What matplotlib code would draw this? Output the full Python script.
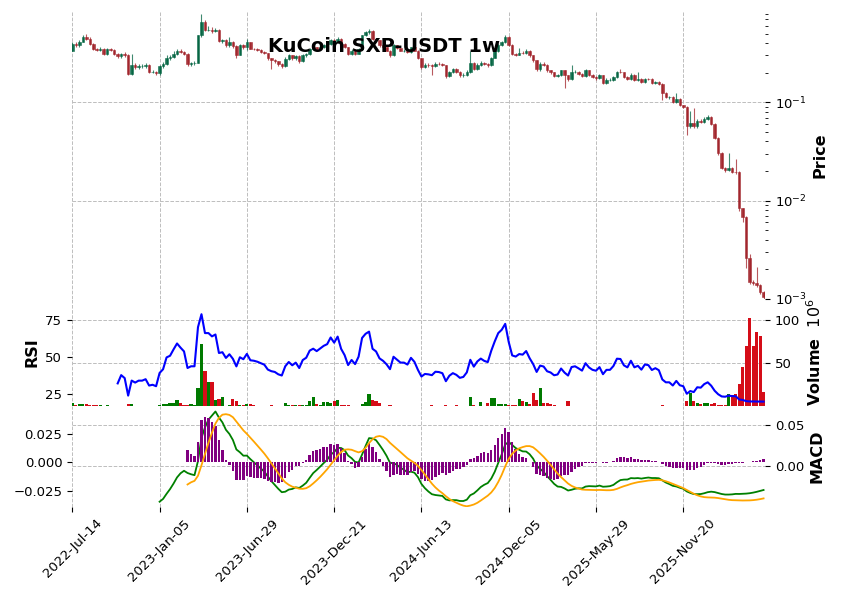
import numpy as np
import pandas as pd
import matplotlib
matplotlib.use("Agg")
import matplotlib.pyplot as plt
from matplotlib.ticker import FixedLocator

TITLE = "KuCoin SXP-USDT 1w"
START = "2022-07-14"
FIRST_OPEN = 0.337

closes = [0.394,0.379,0.416,0.460,0.443,0.394,0.351,0.343,0.351,0.307,
0.345,0.340,0.309,0.293,0.312,0.300,0.196,0.241,0.228,0.234,
0.234,0.238,0.203,0.205,0.197,0.232,0.243,0.282,0.288,0.312,
0.337,0.324,0.312,0.247,0.253,0.253,0.479,0.664,0.551,0.551,
0.530,0.551,0.419,0.426,0.379,0.410,0.373,0.305,0.379,0.362,
0.407,0.353,0.349,0.341,0.329,0.318,0.280,0.267,0.261,0.243,
0.234,0.278,0.300,0.280,0.293,0.261,0.300,0.312,0.351,0.362,
0.351,0.365,0.379,0.388,0.426,0.407,0.443,0.394,0.365,0.312,
0.337,0.314,0.351,0.479,0.517,0.538,0.443,0.426,0.379,0.362,
0.337,0.300,0.379,0.358,0.337,0.337,0.324,0.362,0.337,0.282,
0.228,0.241,0.238,0.232,0.247,0.245,0.238,0.185,0.206,0.216,
0.206,0.188,0.191,0.206,0.253,0.220,0.241,0.253,0.243,0.238,
0.284,0.332,0.385,0.410,0.460,0.385,0.312,0.305,0.320,0.317,
0.337,0.300,0.267,0.216,0.247,0.241,0.211,0.203,0.185,0.188,
0.211,0.188,0.171,0.203,0.206,0.196,0.185,0.211,0.192,0.181,
0.177,0.188,0.157,0.170,0.170,0.181,0.203,0.202,0.181,0.174,
0.192,0.170,0.174,0.161,0.174,0.172,0.157,0.161,0.155,0.124,
0.113,0.113,0.101,0.109,0.0932,0.0896,0.0571,0.0616,0.0571,0.0646,
0.0631,0.0683,0.0709,0.0608,0.0438,0.0306,0.0216,0.0204,0.0217,0.0198,
0.0197,0.00833,0.00685,0.00259,0.00150,0.00144,0.00139,0.00119,0.00106]

highs = [0.41,0.41,0.43,0.48,0.50,0.46,0.40,0.36,0.37,0.36,
0.355,0.355,0.345,0.315,0.32,0.325,0.31,0.312,0.25,0.245,
0.245,0.25,0.245,0.215,0.21,0.24,0.26,0.30,0.30,0.33,
0.35,0.345,0.33,0.32,0.26,0.265,0.49,0.80,0.69,0.60,
0.58,0.57,0.56,0.44,0.44,0.46,0.42,0.38,0.39,0.39,
0.44,0.41,0.36,0.355,0.345,0.335,0.32,0.285,0.275,0.265,
0.25,0.29,0.31,0.305,0.30,0.30,0.31,0.32,0.36,0.375,
0.37,0.375,0.39,0.40,0.44,0.44,0.46,0.45,0.40,0.37,
0.345,0.34,0.36,0.49,0.535,0.56,0.545,0.45,0.43,0.385,
0.365,0.34,0.39,0.385,0.36,0.35,0.345,0.37,0.365,0.34,
0.285,0.25,0.25,0.245,0.255,0.255,0.25,0.24,0.21,0.225,
0.222,0.21,0.20,0.212,0.337,0.26,0.25,0.265,0.26,0.25,
0.29,0.34,0.40,0.42,0.48,0.47,0.39,0.32,0.36,0.33,
0.35,0.34,0.305,0.27,0.255,0.255,0.245,0.215,0.205,0.195,
0.215,0.215,0.19,0.24,0.215,0.21,0.20,0.22,0.215,0.195,
0.185,0.195,0.19,0.175,0.176,0.186,0.207,0.22,0.205,0.185,
0.198,0.195,0.205,0.178,0.178,0.178,0.175,0.165,0.164,0.157,
0.127,0.116,0.115,0.124,0.111,0.095,0.091,0.0816,0.0884,0.067,
0.067,0.071,0.074,0.073,0.062,0.0445,0.031,0.022,0.0303,0.022,
0.0268,0.020,0.0085,0.007,0.0029,0.00155,0.00213,0.00142,0.00122]

lows = [0.33,0.37,0.37,0.41,0.43,0.38,0.34,0.33,0.33,0.30,
0.30,0.33,0.30,0.285,0.285,0.29,0.19,0.19,0.22,0.22,
0.225,0.225,0.198,0.198,0.19,0.19,0.225,0.24,0.27,0.28,
0.30,0.315,0.30,0.235,0.235,0.24,0.25,0.46,0.53,0.53,
0.51,0.52,0.41,0.40,0.37,0.37,0.36,0.28,0.30,0.35,
0.34,0.345,0.34,0.33,0.32,0.31,0.27,0.22,0.25,0.235,
0.225,0.23,0.27,0.27,0.27,0.25,0.255,0.29,0.30,0.34,
0.34,0.345,0.355,0.37,0.38,0.39,0.40,0.38,0.355,0.30,
0.30,0.30,0.31,0.345,0.47,0.50,0.43,0.41,0.37,0.35,
0.33,0.29,0.295,0.35,0.33,0.325,0.315,0.32,0.33,0.275,
0.22,0.222,0.23,0.188,0.228,0.238,0.232,0.175,0.18,0.20,
0.20,0.182,0.182,0.186,0.20,0.215,0.215,0.235,0.238,0.23,
0.235,0.28,0.325,0.375,0.40,0.375,0.30,0.295,0.30,0.31,
0.31,0.29,0.26,0.21,0.21,0.235,0.205,0.195,0.18,0.18,
0.185,0.14,0.165,0.168,0.198,0.19,0.18,0.18,0.187,0.175,
0.17,0.172,0.152,0.153,0.165,0.166,0.178,0.198,0.177,0.17,
0.17,0.166,0.165,0.157,0.158,0.168,0.153,0.153,0.15,0.106,
0.11,0.109,0.098,0.099,0.091,0.087,0.0462,0.055,0.0555,0.0555,
0.061,0.061,0.066,0.059,0.042,0.029,0.021,0.0198,0.020,0.019,
0.0189,0.0078,0.0061,0.00206,0.00142,0.00138,0.00134,0.00112,0.00101]

# weekly volume, millions
volumes_m = [3,1.5,2,2,2,0.8,0.8,0.8,0.8,0,
0.8,0,0,0,0,0,2,2,0,0,
0,0,0,0,0,0.8,2,2,3,3,
6.5,3.5,1,1,2,1,20.8,73,41,28.5,
27.7,6.5,8.5,10,0,1.5,7.7,5.4,1.5,1,
2.7,2.3,1,0,0,0,0,0.8,0,0,
0,3,1.5,0.8,0.8,0.8,0.8,0.8,5.4,10,
2.7,0.8,4.2,4.2,3.8,5.4,6.5,1.5,0.8,0.8,
0,0,0,2.7,4.2,13.5,6.5,6.2,3,0,
0,0.8,0,0,0,0,0,0,0,0,
0,0,0,0.8,0,0,0,0.8,0,0,
0.8,0,0,0,10,0.8,0,4.2,0,3.8,
8.8,8.8,2.3,2.3,2.3,0.8,0.8,0.8,7.7,5.4,
4.6,2.3,15,6.5,21.5,3.8,3,2,0.8,0,
0,0,5.4,0,0,0,0,0,0,0,
0,0,0,0,0,0,0,0,0,0,
0,0,0,0,0,0,0,0,0,0.8,
0,0,0,0,0,0,5.4,15.4,5.8,3.8,
2.3,3,3,2,3.5,1.5,1.2,1.2,14.6,12.3,
13.8,25.8,45.8,70,102.7,70,87,81.5,16]

n = len(closes)
dates = pd.date_range(START, periods=n, freq="7D")
opens = [FIRST_OPEN] + closes[:-1]

o = np.array(opens); c = np.array(closes)
h = np.array(highs); l = np.array(lows)
v = np.array(volumes_m)
x = np.arange(n)

# indicators
cs = pd.Series(c)
delta = cs.diff().fillna(0.0)
gain = delta.clip(lower=0)
loss = (-delta).clip(lower=0)
ag = gain.ewm(alpha=1/14, adjust=False, min_periods=14).mean()
al = loss.ewm(alpha=1/14, adjust=False, min_periods=14).mean()
rsi = 100 - 100 / (1 + ag / al)
ema12 = cs.ewm(span=12, adjust=False, min_periods=12).mean()
ema26 = cs.ewm(span=26, adjust=False, min_periods=26).mean()
macd = ema12 - ema26
signal = macd.ewm(span=9, adjust=False, min_periods=9).mean()
hist = macd - signal

UP, DN = "#006340", "#A02128"
VUP, VDN = "#007a00", "#d50d18"
GRID = "#bdbdbd"
up = c >= o

fig = plt.figure(figsize=(8.41, 6.0), dpi=100)
L, W = 0.0856, 0.8240
ax_p = fig.add_axes([L, 1 - 299/600, W, 288/600])
ax_v = fig.add_axes([L, 1 - 406/600, W, 107/600], sharex=ax_p)
ax_r = ax_v.twinx()
ax_m = fig.add_axes([L, 1 - 507/600, W, 101/600], sharex=ax_p)
ax_h = ax_m.twinx()

# candles
ccol = np.where(up, UP, DN)
ax_p.vlines(x, l, h, colors=ccol, linewidth=0.8, alpha=0.75, zorder=2)
ax_p.bar(x, np.abs(c - o), bottom=np.minimum(o, c), width=0.72,
         color=ccol, edgecolor=ccol, linewidth=0.4, alpha=0.9, zorder=3)
ax_p.set_yscale("log")
ax_p.set_ylim(0.001, 0.85)

# volume + RSI
vcol = np.where(up, VUP, VDN)
ax_v.bar(x, v, width=0.9, color=vcol, zorder=2)
ax_v.set_ylim(0, 125)
ax_v.yaxis.set_major_locator(FixedLocator([50, 100]))
ax_r.plot(x, rsi, color="blue", linewidth=1.5, zorder=3)
ax_r.set_ylim(16.9, 89.2)
ax_r.yaxis.set_major_locator(FixedLocator([25, 50, 75]))

# MACD line on primary (right) axis; signal + histogram on secondary (left)
ax_m.plot(x, macd, color="green", linewidth=1.3, zorder=3)
ax_m.set_ylim(-0.050, 0.0732)
ax_m.yaxis.set_major_locator(FixedLocator([0.0, 0.05]))
ax_m.yaxis.set_major_formatter(plt.FuncFormatter(lambda val, pos: f"{val:.2f}"))
ax_h.bar(x, hist, width=0.7, color="purple", zorder=2)
ax_h.plot(x, signal, color="orange", linewidth=1.3, zorder=3)
ax_h.set_ylim(-0.0394, 0.0496)
ax_h.yaxis.set_major_locator(FixedLocator([-0.025, 0.0, 0.025]))

# x axis
tick_idx = list(range(0, n, 25))
ax_p.set_xlim(-0.09, 198.4)
ax_m.xaxis.set_major_locator(FixedLocator(tick_idx))
ax_m.set_xticklabels([dates[i].strftime("%Y-%b-%d") for i in tick_idx],
                     rotation=45, ha="center", fontsize=9.5)

for ax in (ax_p, ax_v, ax_r, ax_h, ax_m):
    for s in ax.spines.values():
        s.set_visible(False)
    ax.tick_params(axis="both", labelsize=9.5, length=3.5, width=0.8)

for ax in (ax_p, ax_v, ax_r, ax_h):
    ax.tick_params(axis="x", labelbottom=False, length=0)

for ax in (ax_p, ax_v, ax_m):
    ax.grid(True, which="major", linestyle="--", color=GRID, linewidth=0.7)
    ax.set_axisbelow(True)

ax_p.yaxis.tick_right(); ax_p.yaxis.set_label_position("right")
ax_v.yaxis.tick_right(); ax_v.yaxis.set_label_position("right")
ax_r.yaxis.tick_left(); ax_r.yaxis.set_label_position("left")
ax_m.yaxis.tick_right(); ax_m.yaxis.set_label_position("right")
ax_h.yaxis.tick_left(); ax_h.yaxis.set_label_position("left")

lab = dict(fontsize=11.5, fontweight="bold")
ax_p.set_ylabel("Price", **lab)
ax_v.set_ylabel("Volume  $10^{6}$", **lab)
ax_r.set_ylabel("RSI", **lab)
ax_m.set_ylabel("MACD", **lab)

fig.text(0.457, 1 - 47/600, TITLE, ha="center", va="center",
         fontsize=14, fontweight="bold")

fig.savefig("out.png", dpi=100)
